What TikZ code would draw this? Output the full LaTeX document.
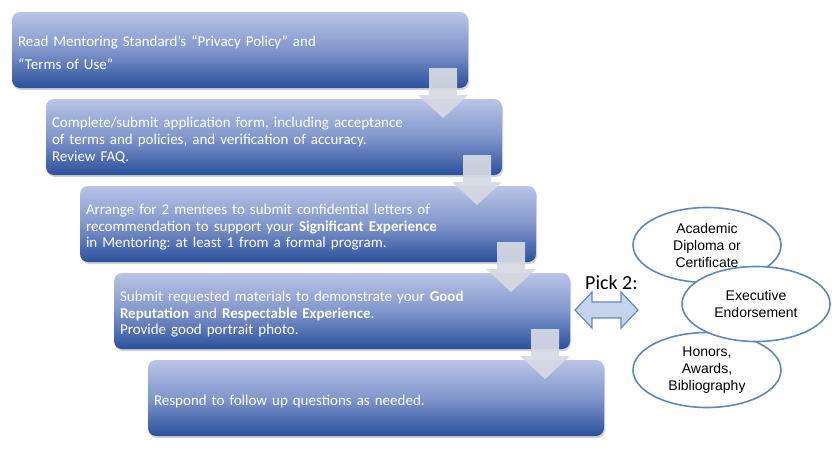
\documentclass[tikz,border=0pt]{standalone}
\usepackage{fontspec}
\setmainfont{Carlito}
\newfontfamily\arialf{Liberation Sans}
\usetikzlibrary{calc,shadows,shapes.geometric}
\definecolor{boxtop}{RGB}{186,196,230}
\definecolor{boxmid}{RGB}{128,150,204}
\definecolor{boxbot}{RGB}{42,80,156}
\definecolor{arrowgray}{RGB}{214,217,226}
\definecolor{ellline}{RGB}{96,134,194}
\definecolor{pickfill}{RGB}{198,213,236}
\definecolor{pickline}{RGB}{100,135,190}
\newcommand\flowarrow[2]{%
  \fill[arrowgray, opacity=0.93] let \p1=(#1.south east), \p2=(#2.north east) in
    (\x1-39pt,\y1+20pt) -- (\x1-11pt,\y1+20pt) -- (\x1-11pt,\y1-7pt) -- (\x1,\y1-7pt)
    -- (\x1-25pt,\y2-19pt) -- (\x1-50pt,\y1-7pt) -- (\x1-39pt,\y1-7pt) -- cycle;}
\frenchspacing
\begin{document}
\begin{tikzpicture}[x=1pt,y=-1pt,
  stepbox/.style={rectangle, rounded corners=8pt, minimum width=456pt, minimum height=76pt,
    text width=444pt, inner xsep=6pt, inner ysep=0pt, outer sep=0pt, align=left,
    anchor=north west, top color=boxtop, bottom color=boxbot, middle color=boxmid,
    text=white, font=\fontsize{15}{16.7}\selectfont\frenchspacing,
    execute at begin node={\rule{0pt}{17pt}},
    drop shadow={shadow xshift=1pt, shadow yshift=-2pt, opacity=0.3, fill=black!60}},
  choice/.style={ellipse, draw=ellline, line width=1.6pt, fill=white, minimum width=148pt,
    minimum height=75pt, inner sep=0pt, align=center,
    font=\arialf\fontsize{14}{17}\selectfont}]
\useasboundingbox (0,0) rectangle (840,450);

\node[stepbox] (b1) at (12,12) {Read Mentoring Standard’s “Privacy Policy” and\\[6.3pt]“Terms of Use”};
\node[stepbox] (b2) at (46,99) {Complete/submit application form, including acceptance\\of terms and policies, and verification of accuracy.\\Review FAQ.};
\node[stepbox] (b3) at (80,186) {Arrange for 2 mentees to submit confidential letters of\\recommendation to support your \textbf{Significant Experience}\\in Mentoring: at least 1 from a formal program.};
\node[stepbox] (b4) at (114,273) {Submit requested materials to demonstrate your \textbf{Good}\\\textbf{Reputation} and \textbf{Respectable Experience}.\\Provide good portrait photo.};
\node[stepbox] (b5) at (148,360) {Respond to follow up questions as needed.};

\flowarrow{b1}{b2}
\flowarrow{b2}{b3}
\flowarrow{b3}{b4}
\flowarrow{b4}{b5}

\node[anchor=base west, inner sep=0pt, font=\fontsize{20}{24}\selectfont] (pick) at (585,289) {Pick 2:};
\filldraw[fill=pickfill, draw=pickline, line width=1.2pt, line join=miter]
  (575,310) -- (592,292) -- (592,302) -- (621,302) -- (621,292) -- (638,310)
  -- (621,328) -- (621,318) -- (592,318) -- (592,328) -- cycle;

\node[choice] (e1) at (707,245) {Academic\\Diploma or\\Certificate};
\node[choice] (e3) at (707,370) {Honors,\\Awards,\\Bibliography};
\node[choice] (e2) at (756,304) {Executive\\Endorsement};
\end{tikzpicture}
\end{document}
